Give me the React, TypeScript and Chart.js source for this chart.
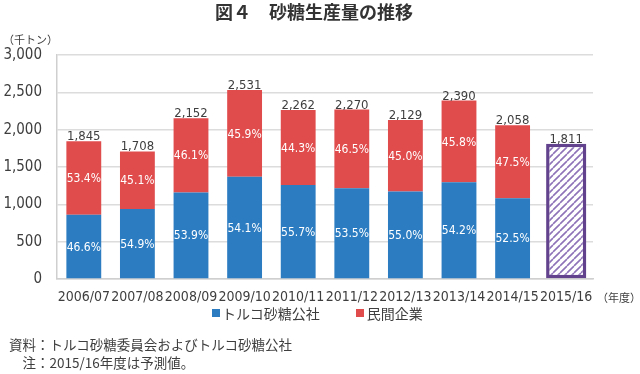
import React, { useEffect, useRef } from "react";
import { Chart, registerables } from "chart.js";

Chart.register(...registerables);

const categories = ["2006/07", "2007/08", "2008/09", "2009/10", "2010/11", "2011/12", "2012/13", "2013/14", "2014/15", "2015/16"];
const turkSugar = [860, 938, 1160, 1369, 1260, 1214, 1171, 1295, 1080, null];
const privateSector = [985, 770, 992, 1162, 1002, 1056, 958, 1095, 978, null];
const forecast = [null, null, null, null, null, null, null, null, null, 1811];
const totalLabels = ["1,845", "1,708", "2,152", "2,531", "2,262", "2,270", "2,129", "2,390", "2,058", "1,811"];
const turkSugarPct = ["46.6%", "54.9%", "53.9%", "54.1%", "55.7%", "53.5%", "55.0%", "54.2%", "52.5%", ""];
const privatePct = ["53.4%", "45.1%", "46.1%", "45.9%", "44.3%", "46.5%", "45.0%", "45.8%", "47.5%", ""];
const yMin = 0;
const yMax = 3000;
const yStep = 500;

const BLUE = "#2b7cc1";
const RED = "#e04b4c";
const PURPLE = "#62428c";
const HATCH = "#8e73b8";
const TEXT = "#3e3e3e";
const NUM_FAMILY = "'DejaVu Sans Condensed', sans-serif";
const JP_FONT = "'Noto Sans CJK JP', 'Noto Sans', sans-serif";

function makeHatch(): CanvasPattern | string {
  const c = document.createElement("canvas");
  const s = 7;
  c.width = s;
  c.height = s;
  const g = c.getContext("2d");
  if (!g) return "#ffffff";
  g.fillStyle = "#ffffff";
  g.fillRect(0, 0, s, s);
  g.strokeStyle = HATCH;
  g.lineWidth = 1.6;
  g.beginPath();
  for (let k = -1; k <= 1; k++) {
    g.moveTo(k * s, s);
    g.lineTo(k * s + s, 0);
  }
  g.stroke();
  const p = g.createPattern(c, "repeat");
  return p || "#ffffff";
}

const labelPlugin = {
  id: "barLabels",
  afterDatasetsDraw(chart: any) {
    const ctx = chart.ctx;
    ctx.save();
    ctx.textAlign = "center";
    ctx.font = `12px ${NUM_FAMILY}`;
    ctx.fillStyle = "#ffffff";
    ctx.textBaseline = "middle";
    const pctSets = [turkSugarPct, privatePct];
    [0, 1].forEach((di) => {
      const meta = chart.getDatasetMeta(di);
      meta.data.forEach((el: any, i: number) => {
        const txt = pctSets[di][i];
        if (!txt) return;
        const props = el.getProps(["x", "y", "base"], true);
        ctx.fillText(txt, props.x, (props.y + props.base) / 2 + 1);
      });
    });
    ctx.fillStyle = TEXT;
    ctx.textBaseline = "alphabetic";
    ctx.font = `13px ${NUM_FAMILY}`;
    categories.forEach((_, i) => {
      const di = forecast[i] != null ? 2 : 1;
      const el = chart.getDatasetMeta(di).data[i];
      if (!el) return;
      const props = el.getProps(["x", "y"], true);
      ctx.fillText(totalLabels[i], props.x, props.y - 1);
    });
    ctx.restore();
  },
};

export default function App() {
  const ref = useRef<HTMLCanvasElement | null>(null);

  useEffect(() => {
    if (!ref.current) return;
    const chart = new Chart(ref.current, {
      type: "bar",
      data: {
        labels: categories,
        datasets: [
          {
            label: "トルコ砂糖公社",
            data: turkSugar,
            backgroundColor: BLUE,
            barPercentage: 0.65,
            categoryPercentage: 1,
            borderWidth: 0,
          },
          {
            label: "民間企業",
            data: privateSector,
            backgroundColor: RED,
            barPercentage: 0.65,
            categoryPercentage: 1,
            borderWidth: 0,
          },
          {
            label: "予測値",
            data: forecast,
            backgroundColor: makeHatch() as any,
            borderColor: PURPLE,
            borderWidth: 3.5,
            borderSkipped: false,
            barPercentage: 0.75,
            categoryPercentage: 1,
          },
        ],
      },
      options: {
        animation: false,
        responsive: false,
        maintainAspectRatio: false,
        layout: { padding: { left: 0, right: 47, top: 55, bottom: 69 } },
        plugins: {
          legend: { display: false },
          tooltip: { enabled: false },
          title: { display: false },
        },
        scales: {
          x: {
            stacked: true,
            grid: { display: false, drawTicks: false },
            border: { display: true, color: "#cfcfcf", width: 1.5 },
            ticks: {
              color: TEXT,
              font: { family: NUM_FAMILY, size: 14 },
              padding: 10,
              maxRotation: 0,
              autoSkip: false,
            },
            afterFit(scale: any) {
              scale.height = 26;
            },
          },
          y: {
            stacked: true,
            min: yMin,
            max: yMax,
            grid: { color: "#dcdcdc", lineWidth: 1.5, drawTicks: false },
            border: { display: true, color: "#cfcfcf", width: 1.5 },
            ticks: {
              stepSize: yStep,
              color: TEXT,
              font: { family: NUM_FAMILY, size: 15 },
              padding: 15,
              callback: (v: any) => Number(v).toLocaleString("en-US"),
            },
            afterFit(scale: any) {
              scale.width = 57;
            },
          },
        },
      },
      plugins: [labelPlugin],
    });
    return () => chart.destroy();
  }, []);

  const abs = (o: React.CSSProperties): React.CSSProperties => ({
    position: "absolute",
    whiteSpace: "nowrap",
    margin: 0,
    ...o,
  });

  return (
    <div style={{ position: "absolute", left: 0, top: 0, width: 640, height: 374, background: "#ffffff", overflow: "hidden", color: TEXT }}>
      <canvas ref={ref} width={640} height={374} style={{ position: "absolute", left: 0, top: 0, width: 640, height: 374 }} />
      <div style={abs({ left: 215, top: 2, fontFamily: JP_FONT, fontSize: 18, fontWeight: 700, lineHeight: "18px", color: "#333" })}>
        {"図４\u3000砂糖生産量の推移"}
      </div>
      <div style={abs({ left: 3, top: 34, fontFamily: JP_FONT, fontSize: 11, lineHeight: "11px" })}>{"（千トン）"}</div>
      <div style={abs({ left: 597, top: 292, fontFamily: JP_FONT, fontSize: 11, lineHeight: "11px" })}>{"（年度）"}</div>
      <div style={abs({ left: 212, top: 306, fontFamily: JP_FONT, fontSize: 14, lineHeight: "14px", display: "flex", alignItems: "center" })}>
        <span style={{ display: "inline-block", width: 8, height: 8, background: BLUE, marginRight: 2 }} />
        <span>トルコ砂糖公社</span>
        <span style={{ display: "inline-block", width: 8, height: 8, background: RED, marginLeft: 36, marginRight: 3 }} />
        <span>民間企業</span>
      </div>
      <div style={abs({ left: 9, top: 338, fontFamily: JP_FONT, fontSize: 13.5, lineHeight: "13.5px" })}>
        {"資料：トルコ砂糖委員会およびトルコ砂糖公社"}
      </div>
      <div style={abs({ left: 9, top: 356, fontFamily: JP_FONT, fontSize: 13.5, lineHeight: "13.5px" })}>
        {"\u3000注：2015/16年度は予測値。"}
      </div>
    </div>
  );
}
